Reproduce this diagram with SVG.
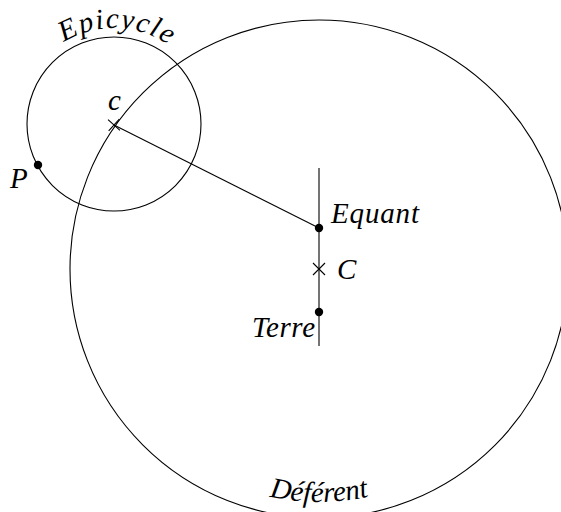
<svg xmlns="http://www.w3.org/2000/svg" width="561" height="512" viewBox="0 0 561 512" font-family="Liberation Serif, serif" font-style="italic" font-size="29">
<style>
.l{fill:none;stroke:#000;stroke-width:1.1}
.d{fill:#000}
</style>
<defs>
<path id="epiArc" d="M 18,124 A 96 96 0 0 1 210,124"/>
<path id="defArc" d="M 86,269 A 233 233 0 0 0 552,269"/>
</defs>
<rect width="561" height="512" fill="#fff"/>
<g id="deferent">
<circle class="l" cx="319" cy="269" r="249"/>
<text><textPath href="#defArc" startOffset="50%" text-anchor="middle">Déférent</textPath></text>
</g>
<g id="epicycle">
<circle class="l" cx="114" cy="124" r="87"/>
<text letter-spacing="1.5"><textPath href="#epiArc" startOffset="51%" text-anchor="middle">Epicycle</textPath></text>
</g>
<g id="connectors">
<line class="l" x1="319" y1="168" x2="319" y2="346"/>
<line class="l" x1="114" y1="125" x2="319" y2="228"/>
</g>
<g id="c">
<path class="l" d="M 111.5,117.4 L 116.5,132.6 M 106.4,127.5 L 121.6,122.5" stroke-width="1.5" transform="rotate(-30 114 125)"/>
<text x="108" y="110">c</text>
</g>
<g id="P">
<circle class="d" cx="38" cy="165" r="4.2"/>
<text x="10" y="188">P</text>
</g>
<g id="equant">
<circle class="d" cx="319" cy="228" r="4.2"/>
<text x="331" y="223" textLength="88">Equant</text>
</g>
<g id="C">
<path class="l" d="M 313,263 L 325,275 M 313,275 L 325,263" stroke-width="1.5"/>
<text x="337" y="279">C</text>
</g>
<g id="terre">
<circle class="d" cx="319" cy="312" r="4.2"/>
<text x="252" y="337" textLength="63">Terre</text>
</g>
</svg>
